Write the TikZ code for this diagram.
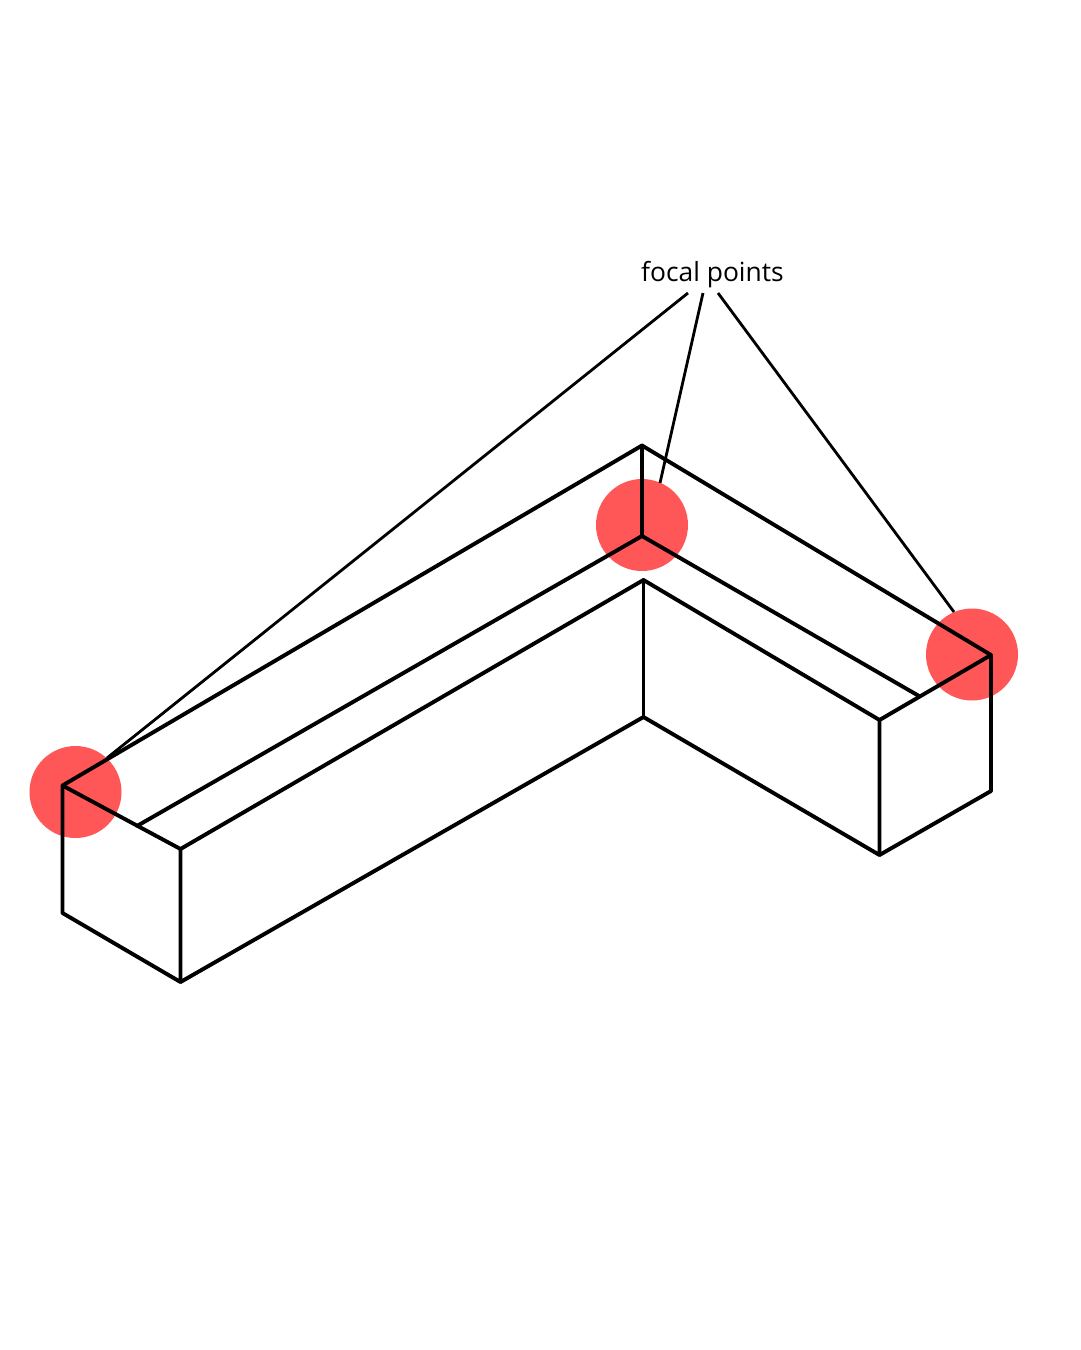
\documentclass[tikz,border=0pt]{standalone}
\usepackage{fontspec}
\setmainfont{Open Sans}
\begin{document}
\begin{tikzpicture}[x=1pt,y=-1pt,
  edge/.style={draw=black,line width=3.9pt,line cap=round,line join=round},
  leader/.style={draw=black,line width=2.8pt,line cap=butt},
  focus/.style={circle,fill=focalred,draw=none,minimum size=92pt,inner sep=0pt,outer sep=0pt}]
\definecolor{focalred}{HTML}{FF5757}
\path[use as bounding box,fill=white] (0,0) rectangle (1080,1350);
\node[focus] (fL) at (75.5,792) {};
\node[focus] (fM) at (642,525) {};
\node[focus] (fR) at (972,654.5) {};
\node[inner sep=0pt,font=\fontsize{26.4pt}{30pt}\selectfont,text=black] (lab) at (712.5,274.5) {focal points};
% corners
\coordinate (A) at (642,445.5);
\coordinate (C) at (642,536);
\coordinate (L) at (62.5,785.5);
\coordinate (R) at (991,655);
\coordinate (P) at (137,826);
\coordinate (Q) at (919,696);
\coordinate (F1) at (180.5,849);
\coordinate (F2) at (879.5,720);
\coordinate (M) at (643.5,580);
\coordinate (N) at (643.5,717);
\coordinate (B0) at (62.5,913);
\coordinate (B1) at (180.5,982);
\coordinate (B2) at (879.5,855);
\coordinate (B3) at (991,791);
% leaders
\coordinate (l1s) at (688,293);
\coordinate (l1e) at (107,758);
\coordinate (l2s) at (703,293);
\coordinate (l2e) at (660,483);
\coordinate (l3s) at (718,293);
\coordinate (l3e) at (954,612);
\draw[leader] (l1s) -- (l1e);
\draw[leader] (l2s) -- (l2e);
\draw[leader] (l3s) -- (l3e);
% box
\draw[edge] (L) -- (A) -- (R);
\draw[edge] (A) -- (C);
\draw[edge] (P) -- (C) -- (Q);
\draw[edge] (L) -- (F1) -- (M) -- (F2) -- (R);
\draw[edge] (L) -- (B0) -- (B1) -- (F1);
\draw[edge] (M) -- (N);
\draw[edge] (B1) -- (N) -- (B2) -- (F2);
\draw[edge] (B2) -- (B3) -- (R);
\end{tikzpicture}
\end{document}
